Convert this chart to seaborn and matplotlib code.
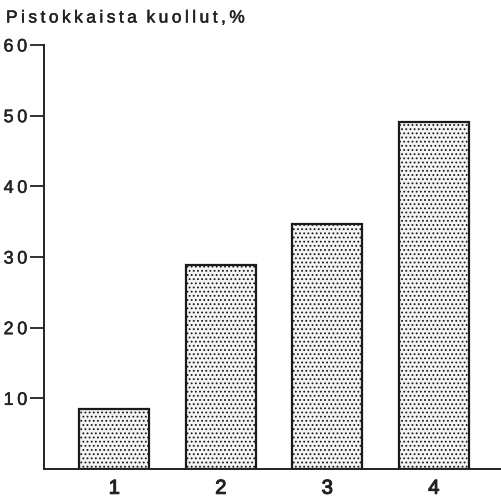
import matplotlib
matplotlib.use("Agg")
from matplotlib import pyplot as plt
from matplotlib import patheffects as pe
import seaborn as sns
import pandas as pd

# data
groups = ["1", "2", "3", "4"]
dead_pct = [8.5, 28.9, 34.7, 49.1]
y_ticks = [10, 20, 30, 40, 50, 60]
title = "Pistokkaista kuollut,%"


def spaced(s):
    # the original lettering is tracked out a little
    return "\u2009".join(s)


df = pd.DataFrame({"group": groups, "dead": dead_pct})

sns.set_style("ticks")
plt.rcParams["font.family"] = ["Liberation Sans", "DejaVu Sans"]
plt.rcParams["hatch.color"] = "#555555"
plt.rcParams["hatch.linewidth"] = 0.8

fig = plt.figure(figsize=(5.02, 5.0), dpi=100)
ax = fig.add_axes([44 / 502, 31 / 500, 458 / 502, 424 / 500])

sns.barplot(data=df, x="group", y="dead", ax=ax, color="white",
            width=0.66, edgecolor="#1a1a1a", linewidth=1.6)
for bar in ax.patches:
    bar.set_hatch("....")
    bar.set_facecolor("#f4f4f4")

# slightly heavier strokes, like the printed lettering
heavy = [pe.withStroke(linewidth=0.35, foreground="#222222")]
heavier = [pe.withStroke(linewidth=0.8, foreground="#222222")]

ax.set_xlim(-0.66, 3.64)
ax.set_ylim(0, 60)
ax.set_yticks(y_ticks)
ax.set_yticklabels([spaced(str(v)) for v in y_ticks], fontsize=13, color="#222222")
for lab in ax.get_yticklabels():
    lab.set_path_effects(heavy)
ax.tick_params(axis="y", length=10, width=1.3, pad=2, color="#222222")
ax.tick_params(axis="x", length=0, pad=7, labelsize=14.5, labelcolor="#222222")
for lab in ax.get_xticklabels():
    lab.set_path_effects(heavier)
ax.set_xlabel("")
ax.set_ylabel("")

sns.despine(ax=ax)
ax.spines["left"].set_linewidth(1.4)
ax.spines["bottom"].set_linewidth(1.4)
ax.spines["left"].set_color("#222222")
ax.spines["bottom"].set_color("#222222")

fig.text(6 / 502, 1 - 18 / 500, spaced(title).replace("\u2009 \u2009", "  "),
         fontsize=12.5, color="#222222", va="center", ha="left",
         path_effects=heavy)

fig.savefig("out.png", dpi=100)
